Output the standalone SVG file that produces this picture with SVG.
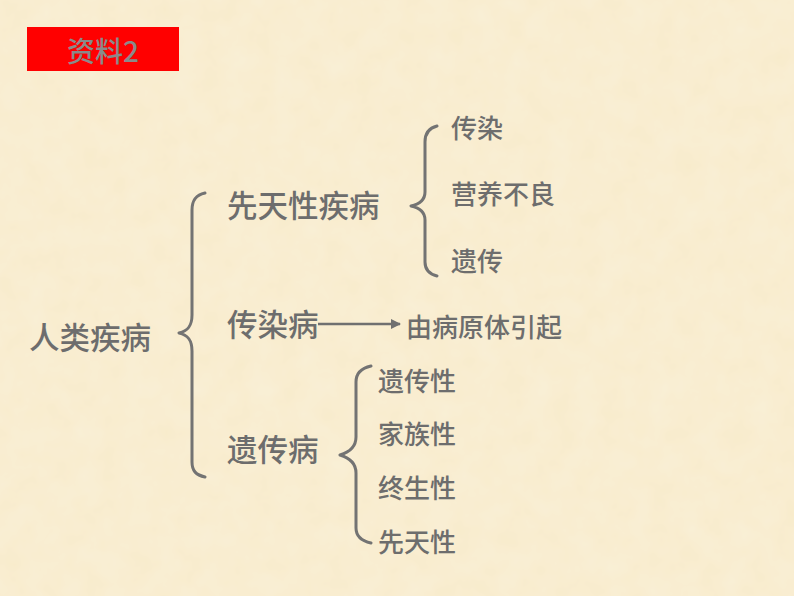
<svg xmlns="http://www.w3.org/2000/svg" width="794" height="596" viewBox="0 0 794 596">
<defs>
<style>
.t{font-family:"Noto Sans CJK SC","Liberation Sans",sans-serif;fill:#6d6d6d;dominant-baseline:central;font-weight:500}
.l{font-size:30.5px}
.s{font-size:26px}
.b{fill:none;stroke:#737373;stroke-width:3;stroke-linecap:round;stroke-linejoin:round}
</style>
<marker id="ah" viewBox="0 0 10 10" refX="9" refY="5" markerWidth="4" markerHeight="4" orient="auto" markerUnits="strokeWidth">
<path d="M0,0 L10,5 L0,10 z" fill="#707070"/>
</marker>
<filter id="tex" x="0" y="0" width="100%" height="100%">
<feTurbulence type="fractalNoise" baseFrequency="0.04" numOctaves="3" seed="4"/>
<feColorMatrix type="matrix" values="0 0 0 0 1  0 0 0 0 1  0 0 0 0 1  0 0 0 0.22 0"/>
</filter>
</defs>
<rect width="794" height="596" fill="#f8ebcb"/>
<rect width="794" height="596" filter="url(#tex)"/>
<g id="title">
<rect x="27" y="27" width="152" height="44" fill="#ff0000"/>
<text class="t" x="103" y="50" font-size="28" text-anchor="middle" style="fill:#8a8a8a">资料2</text>
</g>
<g id="root"><text class="t l" x="29" y="336">人类疾病</text></g>
<g id="congenital"><text class="t l" x="227" y="204">先天性疾病</text></g>
<g id="infectious"><text class="t l" x="227" y="323">传染病</text></g>
<g id="genetic"><text class="t l" x="227" y="448">遗传病</text></g>
<g id="c1"><text class="t s" x="451" y="126">传染</text></g>
<g id="c2"><text class="t s" x="451" y="192">营养不良</text></g>
<g id="c3"><text class="t s" x="451" y="259">遗传</text></g>
<g id="cause"><text class="t s" x="406" y="325">由病原体引起</text></g>
<g id="g1"><text class="t s" x="378" y="379">遗传性</text></g>
<g id="g2"><text class="t s" x="378" y="432">家族性</text></g>
<g id="g3"><text class="t s" x="378" y="486">终生性</text></g>
<g id="g4"><text class="t s" x="378" y="540">先天性</text></g>
<g id="connectors">
<path class="b" d="M205,193 C196,195 192,200 192,210 L192,315 C192,326 188,331 179,333 C188,335 192,340 192,351 L192,462 C192,471 196,475 205,477"/>
<path class="b" d="M437,126 C429,128 425,133 425,142 L425,192 C425,200 420,204 411,206 C420,208 425,212 425,220 L425,262 C425,270 429,274 437,276"/>
<path class="b" d="M371,366 C362,368 356,373 356,382 L356,437 C356,447 350,452 340,455 C350,458 356,463 356,473 L356,528 C356,537 362,541 371,543"/>
<line x1="318" y1="324" x2="400" y2="324" stroke="#707070" stroke-width="2.5" marker-end="url(#ah)"/>
</g>
</svg>
